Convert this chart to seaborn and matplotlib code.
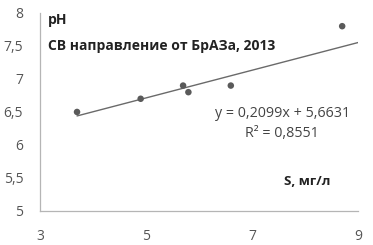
import numpy as np
import pandas as pd
import matplotlib
matplotlib.use('Agg')
import matplotlib.pyplot as plt
from matplotlib.ticker import FuncFormatter
import seaborn as sns

# данные
s_values = [3.7, 4.9, 5.7, 5.8, 6.6, 8.7]
ph_values = [6.5, 6.7, 6.9, 6.8, 6.9, 7.8]
slope = 0.2099
intercept = 5.6631
r2 = 0.8551
x_ticks = [3, 5, 7, 9]
y_ticks = [5, 5.5, 6, 6.5, 7, 7.5, 8]

sns.set_style('white')
plt.rcParams['font.family'] = ['Open Sans', 'DejaVu Sans']

df = pd.DataFrame({'S': s_values, 'pH': ph_values})
trend_x = np.array([min(s_values), x_ticks[-1]])
trend = pd.DataFrame({'S': trend_x, 'pH': slope * trend_x + intercept})

fig = plt.figure(figsize=(3.73, 2.45), dpi=100)
ax = fig.add_axes([0.107, 0.139, 0.853, 0.808])

sns.lineplot(data=trend, x='S', y='pH', ax=ax, color='#6a6a6a', linewidth=1.0)
sns.scatterplot(data=df, x='S', y='pH', ax=ax, color='#5a5a5a', s=22,
                edgecolor='none', zorder=3)

ax.set_xlim(3, 9)
ax.set_ylim(5, 8)
ax.set_xticks(x_ticks)
ax.set_yticks(y_ticks)
fmt = FuncFormatter(lambda v, p: f'{v:g}'.replace('.', ','))
ax.xaxis.set_major_formatter(fmt)
ax.yaxis.set_major_formatter(fmt)
ax.tick_params(axis='both', labelsize=10, colors='#555555', length=3,
               width=0.8, direction='out')
ax.tick_params(axis='x', color='#c0c0c0', pad=10)
ax.tick_params(axis='y', color='#c0c0c0', pad=9)
ax.set_xlabel('')
ax.set_ylabel('')
for side in ['top', 'right']:
    ax.spines[side].set_visible(False)
for side in ['left', 'bottom']:
    ax.spines[side].set_color('#b5b5b5')
    ax.spines[side].set_linewidth(0.9)

ax.text(3.15, 7.9, 'pH', fontsize=10, fontweight='bold', color='#222222', va='center')
ax.text(3.15, 7.5, 'СВ направление от БрАЗа, 2013', fontsize=10,
        fontweight='bold', color='#222222', va='center')
ax.text(7.57, 6.48, f'y = {slope:.4f}x + {intercept:.4f}'.replace('.', ','),
        fontsize=10.3, color='#444444', ha='center', va='center')
ax.text(7.57, 6.18, f'R² = {r2:.4f}'.replace('.', ','), fontsize=10.3,
        color='#444444', ha='center', va='center')
ax.text(8.04, 5.44, 'S, мг/л', fontsize=9.5, fontweight='bold',
        color='#222222', ha='center', va='center')

fig.savefig('out.png', dpi=100)
